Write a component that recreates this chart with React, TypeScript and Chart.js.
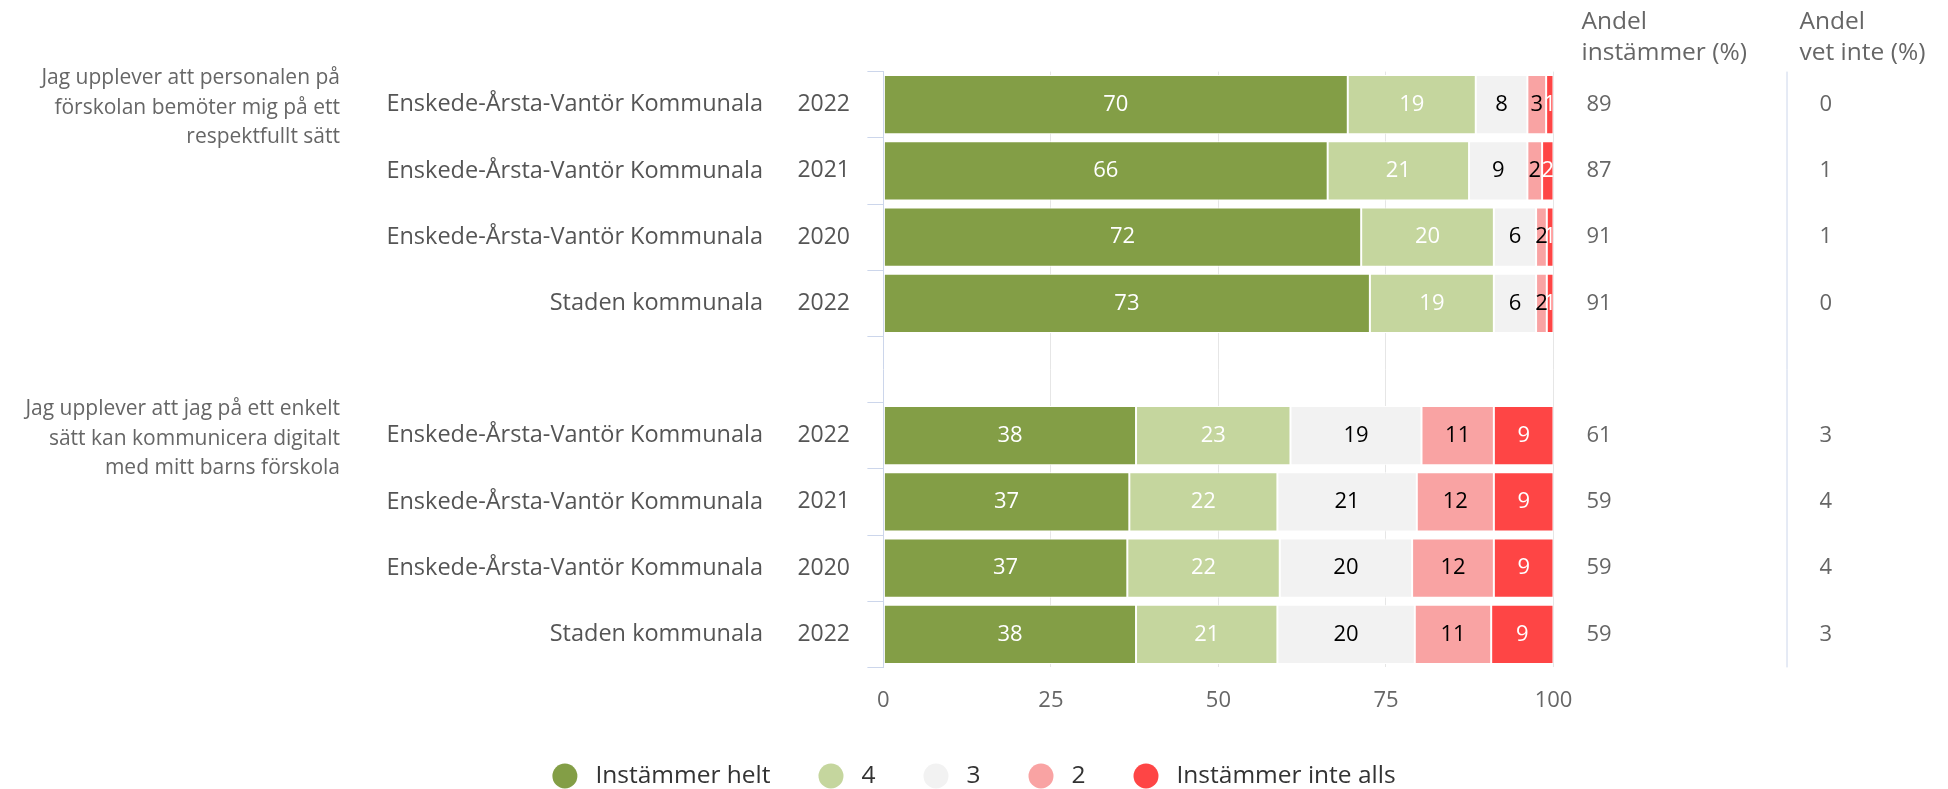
import React, { useEffect, useRef } from 'react';
import { Chart, registerables } from 'chart.js';

Chart.register(...registerables);

// ---------- data ----------
const questionTexts = [
  ['Jag upplever att personalen på', 'förskolan bemöter mig på ett', 'respektfullt sätt'],
  ['Jag upplever att jag på ett enkelt', 'sätt kan kommunicera digitalt', 'med mitt barns förskola'],
];
const questionRows = [0, 5];

const seriesNames = [
  'Enskede-Årsta-Vantör Kommunala',
  'Enskede-Årsta-Vantör Kommunala',
  'Enskede-Årsta-Vantör Kommunala',
  'Staden kommunala',
  '',
  'Enskede-Årsta-Vantör Kommunala',
  'Enskede-Årsta-Vantör Kommunala',
  'Enskede-Årsta-Vantör Kommunala',
  'Staden kommunala',
];
const years = ['2022', '2021', '2020', '2022', '', '2022', '2021', '2020', '2022'];

const legendLabels = ['Instämmer helt', '4', '3', '2', 'Instämmer inte alls'];
const seriesColors = ['#839e46', '#c5d69e', '#f2f2f2', '#f9a3a3', '#fe4545'];
const labelColors = ['#ffffff', '#ffffff', '#000000', '#000000', '#ffffff'];

// bar lengths (%)
const instammerHelt = [69.3, 66.3, 71.3, 72.6, null, 37.7, 36.7, 36.4, 37.7];
const fyra = [19.1, 21.1, 19.8, 18.5, null, 23.05, 22.1, 22.75, 21.1];
const tre = [7.7, 8.7, 6.3, 6.3, null, 19.55, 20.8, 19.75, 20.5];
const tva = [2.8, 2.2, 1.6, 1.6, null, 10.8, 11.5, 12.2, 11.4];
const instammerInteAlls = [1.1, 1.7, 1.0, 1.0, null, 8.9, 8.9, 8.9, 9.3];

// printed labels inside bars
const instammerHeltLabels = [70, 66, 72, 73, null, 38, 37, 37, 38];
const fyraLabels = [19, 21, 20, 19, null, 23, 22, 22, 21];
const treLabels = [8, 9, 6, 6, null, 19, 21, 20, 20];
const tvaLabels = [3, 2, 2, 2, null, 11, 12, 12, 11];
const interAllsLabels = [1, 2, 1, 1, null, 9, 9, 9, 9];

const andelInstammer = [89, 87, 91, 91, null, 61, 59, 59, 59];
const andelVetInte = [0, 1, 1, 0, null, 3, 4, 4, 3];

const colHeader1 = ['Andel', 'instämmer (%)'];
const colHeader2 = ['Andel', 'vet inte (%)'];

const xTicks = [0, 25, 50, 75, 100];

const seriesValues = [instammerHelt, fyra, tre, tva, instammerInteAlls];
const seriesLabelValues = [instammerHeltLabels, fyraLabels, treLabels, tvaLabels, interAllsLabels];

// ---------- styling ----------
const FAMILY = '"Open Sans", sans-serif';
const FS = 22;
const W = 1948;
const H = 789;

const textPlugin = {
  id: 'sideTexts',
  afterDatasetsDraw(chart: any) {
    const ctx = chart.ctx;
    ctx.save();
    ctx.font = `${FS}px ${FAMILY}`;
    ctx.textAlign = 'center';
    ctx.textBaseline = 'middle';
    chart.data.datasets.forEach((ds: any, di: number) => {
      const meta = chart.getDatasetMeta(di);
      meta.data.forEach((bar: any, i: number) => {
        const lab = seriesLabelValues[di][i];
        if (lab == null || ds.data[i] == null) return;
        const p = bar.getProps(['x', 'base', 'y'], true);
        ctx.fillStyle = labelColors[di];
        ctx.fillText(String(lab), (p.x + p.base) / 2, p.y);
      });
    });
    ctx.restore();
  },
  afterDraw(chart: any) {
    const ctx = chart.ctx;
    const ys = chart.scales.y;
    const area = chart.chartArea;
    ctx.save();
    ctx.textBaseline = 'middle';

    // question texts
    ctx.font = `21px ${FAMILY}`;
    ctx.fillStyle = '#666666';
    ctx.textAlign = 'right';
    questionTexts.forEach((lines, qi) => {
      const cy = ys.getPixelForValue(questionRows[qi]) + 3;
      lines.forEach((ln, li) => {
        ctx.fillText(ln, 340, cy + (li - 1) * 29.5);
      });
    });

    // series names and years
    ctx.fillStyle = '#555555';
    seriesNames.forEach((nm, i) => {
      const cy = ys.getPixelForValue(i);
      ctx.font = `23.5px ${FAMILY}`;
      if (nm) ctx.fillText(nm, 763, cy);
      ctx.font = `23px ${FAMILY}`;
      if (years[i]) ctx.fillText(years[i], 850, cy);
    });

    // right columns
    const c1 = area.right + 28;
    const c2 = area.right + 246;
    ctx.textAlign = 'left';
    ctx.fillStyle = '#666666';
    ctx.font = `24.5px ${FAMILY}`;
    colHeader1.forEach((t, k) => ctx.fillText(t, c1, 22 + k * 31));
    colHeader2.forEach((t, k) => ctx.fillText(t, c2, 22 + k * 31));
    ctx.font = `${FS}px ${FAMILY}`;
    andelInstammer.forEach((v, i) => {
      if (v == null) return;
      ctx.fillText(String(v), c1 + 5, ys.getPixelForValue(i));
    });
    andelVetInte.forEach((v, i) => {
      if (v == null) return;
      ctx.fillText(String(v), c2 + 20, ys.getPixelForValue(i));
    });

    // divider
    ctx.strokeStyle = '#ccd6eb';
    ctx.lineWidth = 1;
    ctx.beginPath();
    ctx.moveTo(area.right + 233.5, area.top);
    ctx.lineTo(area.right + 233.5, area.bottom);
    ctx.stroke();

    // legend
    const r = 12.5;
    const gapText = 18;
    const gapItem = 48;
    ctx.font = `24.5px ${FAMILY}`;
    const widths = legendLabels.map((l) => ctx.measureText(l).width);
    const total =
      widths.reduce((a, b) => a + b, 0) + legendLabels.length * (2 * r + gapText) + (legendLabels.length - 1) * gapItem;
    let x = W / 2 - total / 2;
    const ly = 776;
    legendLabels.forEach((l, i) => {
      ctx.fillStyle = chart.data.datasets[i].backgroundColor;
      ctx.beginPath();
      ctx.arc(x + r, ly, r, 0, Math.PI * 2);
      ctx.fill();
      ctx.fillStyle = '#333333';
      ctx.textAlign = 'left';
      ctx.fillText(l, x + 2 * r + gapText, ly);
      x += 2 * r + gapText + widths[i] + gapItem;
    });
    ctx.restore();
  },
};

export default function App() {
  const ref = useRef<HTMLCanvasElement>(null);
  useEffect(() => {
    if (!ref.current) return;
    Chart.defaults.font.family = FAMILY;
    const chart = new Chart(ref.current, {
      type: 'bar',
      data: {
        labels: years,
        datasets: legendLabels.map((l, i) => ({
          label: l,
          data: seriesValues[i],
          backgroundColor: seriesColors[i],
          borderColor: '#ffffff',
          borderWidth: 1,
          borderSkipped: false,
          barPercentage: 0.896,
          categoryPercentage: 1,
        })),
      },
      options: {
        indexAxis: 'y',
        responsive: false,
        animation: false,
        devicePixelRatio: 1,
        layout: { padding: { top: 71.6, right: 394.5, bottom: 0, left: 0 } },
        plugins: { legend: { display: false }, tooltip: { enabled: false } },
        scales: {
          x: {
            stacked: true,
            min: 0,
            max: 100,
            afterBuildTicks: (s: any) => {
              s.ticks = xTicks.map((v) => ({ value: v }));
            },
            grid: {
              drawTicks: false,
              color: (c: any) => (c.tick && c.tick.value === 0 ? 'rgba(0,0,0,0)' : '#e6e6e6'),
            },
            border: { display: false },
            ticks: { color: '#666666', font: { family: FAMILY, size: FS }, padding: 20 },
            afterFit: (s: any) => {
              s.height = 121.6;
            },
          },
          y: {
            stacked: true,
            grid: { drawOnChartArea: false, drawTicks: true, tickLength: 16, color: '#ccd6eb', offset: true },
            border: { display: true, color: '#ccd6eb' },
            ticks: { display: false },
            afterFit: (s: any) => {
              s.width = 883.4;
            },
          },
        },
      },
      plugins: [textPlugin],
    } as any);
    return () => chart.destroy();
  }, []);
  return (
    <div style={{ position: 'absolute', left: 0, top: 0, width: W, height: H, background: '#ffffff' }}>
      <canvas ref={ref} width={W} height={H} style={{ display: 'block', width: W, height: H }} />
    </div>
  );
}
